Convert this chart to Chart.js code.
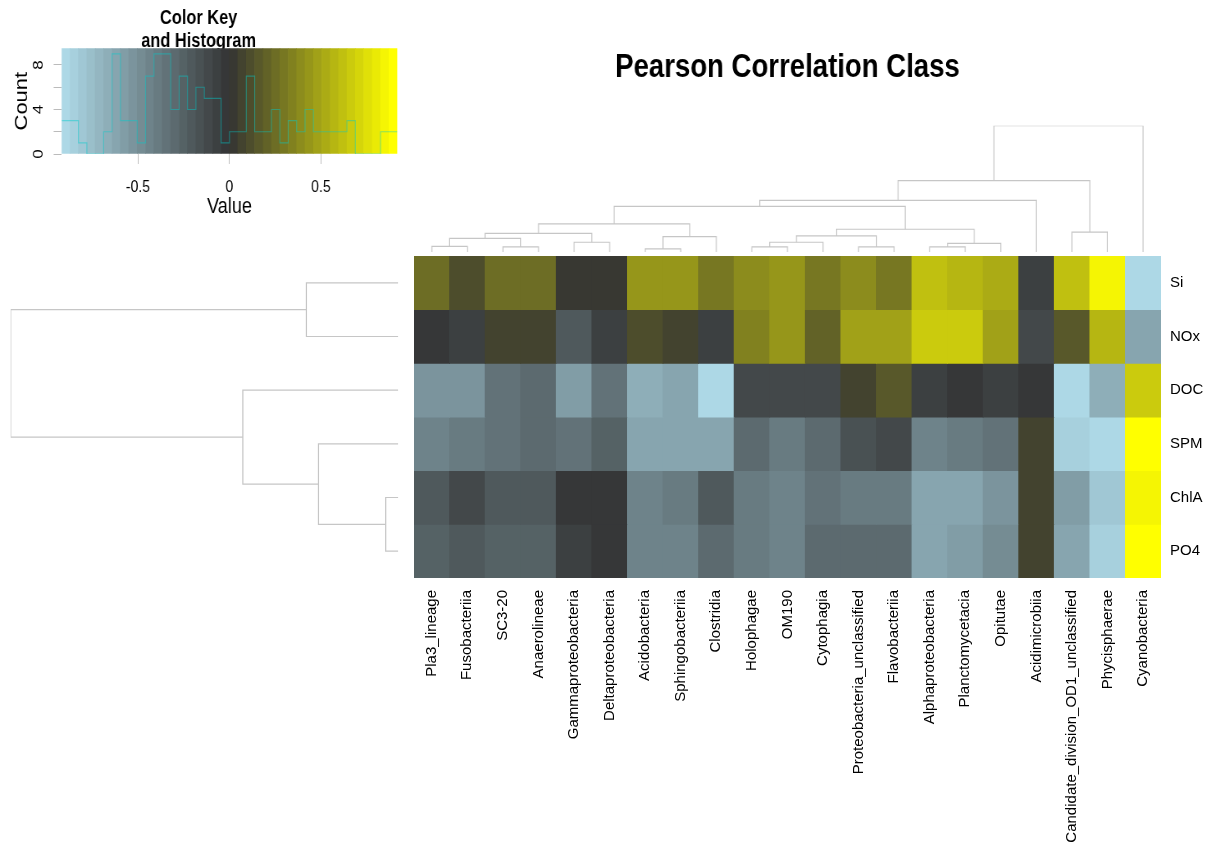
<!DOCTYPE html>
<html>
<head>
<meta charset="utf-8">
<script src="https://cdn.jsdelivr.net/npm/chart.js@4.4.1/dist/chart.umd.min.js"></script>
<style>
    html, body { margin: 0; padding: 0; background: #fff; overflow: hidden; }
    #lienzo { position: relative; width: 1205px; height: 845px; overflow: hidden; }
    #lienzo canvas { position: absolute; left: 0; top: 0; transform-origin: 0 0; }
    /* el original esta comprimido en horizontal: se imita en la clave y el titulo */
    #clave { transform: scaleX(0.82); }
    #dendro_columnas { transform: scaleX(0.835); }
</style>
</head>
<body>
<div id="lienzo">
    <canvas id="clave" width="1470" height="845"></canvas>
    <canvas id="mapa" width="1205" height="845"></canvas>
    <canvas id="dendro_columnas" width="1443" height="845"></canvas>
    <canvas id="dendro_filas" width="1205" height="845"></canvas>
</div>
<script>
// columnas (clases) en el orden del dendrograma
const columnas = ['Pla3_lineage', 'Fusobacteriia', 'SC3-20', 'Anaerolineae', 'Gammaproteobacteria',
    'Deltaproteobacteria', 'Acidobacteria', 'Sphingobacteriia', 'Clostridia', 'Holophagae', 'OM190',
    'Cytophagia', 'Proteobacteria_unclassified', 'Flavobacteriia', 'Alphaproteobacteria',
    'Planctomycetacia', 'Opitutae', 'Acidimicrobiia', 'Candidate_division_OD1_unclassified',
    'Phycisphaerae', 'Cyanobacteria']
const filas = ['Si', 'NOx', 'DOC', 'SPM', 'ChlA', 'PO4']

// correlaciones de Pearson por variable
const cor_Si   = [0.25, 0.13, 0.24, 0.24, 0.04, 0.04, 0.44, 0.44, 0.29, 0.39, 0.45, 0.32, 0.38, 0.31, 0.64, 0.59, 0.52, -0.07, 0.63, 0.87, -0.91]
const cor_NOx  = [-0.01, -0.08, 0.09, 0.09, -0.19, -0.08, 0.13, 0.08, -0.08, 0.33, 0.44, 0.2, 0.49, 0.49, 0.67, 0.67, 0.5, -0.11, 0.18, 0.57, -0.62]
const cor_DOC  = [-0.53, -0.53, -0.35, -0.28, -0.57, -0.33, -0.67, -0.61, -0.88, -0.13, -0.13, -0.11, 0.07, 0.18, -0.06, -0.01, -0.05, -0.01, -0.91, -0.65, 0.67]
const cor_SPM  = [-0.43, -0.37, -0.34, -0.29, -0.33, -0.23, -0.62, -0.62, -0.62, -0.32, -0.37, -0.28, -0.18, -0.11, -0.43, -0.37, -0.33, 0.09, -0.86, -0.91, 0.92]
const cor_ChlA = [-0.2, -0.13, -0.22, -0.22, -0.03, -0.03, -0.43, -0.37, -0.22, -0.37, -0.43, -0.34, -0.37, -0.37, -0.62, -0.62, -0.53, 0.09, -0.57, -0.82, 0.86]
const cor_PO4  = [-0.23, -0.2, -0.23, -0.23, -0.08, -0.03, -0.43, -0.43, -0.28, -0.37, -0.43, -0.32, -0.32, -0.32, -0.62, -0.56, -0.47, 0.09, -0.6, -0.86, 0.92]
const matriz = [cor_Si, cor_NOx, cor_DOC, cor_SPM, cor_ChlA, cor_PO4]

// histograma de la clave de color (40 intervalos)
const conteos = [3, 3, 1, 0, 0, 2, 9, 3, 3, 1, 7, 9, 9, 4, 7, 4, 6, 5, 5, 1,
    2, 2, 7, 2, 2, 4, 1, 3, 2, 4, 2, 2, 2, 2, 3, 0, 0, 0, 2, 2]
const rango_min = -0.917
const rango_max = 0.917
const ticks_valor = [-0.5, 0, 0.5]
const ticks_conteo = [0, 2, 4, 6, 8]

// dendrograma de columnas: [a, b] (negativo = hoja, positivo = grupo), alturas
const fusiones_columnas = [[-1, -2], [-3, -4], [1, 2], [-5, -6], [3, 4], [-7, -8], [6, -9], [5, 7],
    [-10, -11], [9, -12], [-13, -14], [10, 11], [-15, -16], [13, -17], [12, 14], [8, 15],
    [16, -18], [-19, -20], [17, 18], [19, -21]]
const alturas_columnas = [0.045, 0.04, 0.108, 0.077, 0.148, 0.024, 0.121, 0.222,
    0.04, 0.077, 0.04, 0.127, 0.04, 0.069, 0.18, 0.362, 0.409, 0.158, 0.565, 1.0]

// dendrograma de filas
const fusiones_filas = [[-1, -2], [-5, -6], [-4, 2], [-3, 3], [1, 4]]
const alturas_filas = [0.237, 0.0325, 0.206, 0.401, 1.0]

const SANS = '"Liberation Sans", Arial, sans-serif'
Chart.defaults.font.family = SANS
Chart.defaults.color = '#000'
Chart.defaults.animation = false

// paleta lightblue -> gray20 -> yellow en 40 pasos
const anclas = [[173, 216, 230], [51, 51, 51], [255, 255, 0]]
const paleta = Array.from({length: 40}, (_, i) => {
    const t = i / 39 * 2
    const k = Math.min(1, Math.floor(t))
    const f = t - k
    const c = anclas[k].map((v, j) => Math.round(v + (anclas[k + 1][j] - v) * f))
    return `rgb(${c[0]}, ${c[1]}, ${c[2]})`
})
const ancho_bin = (rango_max - rango_min) / 40
function Color_de(v) {
    const i = Math.max(0, Math.min(39, Math.floor((v - rango_min) / ancho_bin)))
    return paleta[i]
}

function Segmentos(fusiones, alturas) {
    const pos = [], alt = [], lineas = []
    fusiones.forEach(([a, b], k) => {
        const pa = a < 0 ? -a - 1 : pos[a - 1]
        const ha = a < 0 ? 0 : alt[a - 1]
        const pb = b < 0 ? -b - 1 : pos[b - 1]
        const hb = b < 0 ? 0 : alt[b - 1]
        lineas.push([[pa, ha], [pa, alturas[k]], [pb, alturas[k]], [pb, hb]])
        pos[k] = (pa + pb) / 2
        alt[k] = alturas[k]
    })
    return lineas
}

const estilo_rama = {showLine: true, pointRadius: 0, borderColor: '#c6c6c6', borderWidth: 1.2, fill: false}
const sin_extras = {legend: {display: false}, tooltip: {enabled: false}}

// clave de color e histograma (canvas escalado 0.82 en x)
const cortes = Array.from({length: 41}, (_, i) => rango_min + i * ancho_bin)
new Chart(document.getElementById('clave'), {
    type: 'bar',
    data: {
        datasets: [{
            type: 'line',
            data: cortes.map((x, i) => ({x: x, y: conteos[Math.min(i, 39)]})),
            stepped: 'before',
            borderColor: 'rgba(0, 205, 205, 0.45)',
            borderWidth: 1.2,
            pointRadius: 0,
            order: 0
        }, {
            type: 'bar',
            data: cortes.slice(0, 40).map(x => ({x: x + ancho_bin / 2, y: 9.5})),
            backgroundColor: paleta,
            barPercentage: 1,
            categoryPercentage: 1,
            borderWidth: 0,
            order: 1
        }]
    },
    options: {
        responsive: false,
        layout: {padding: {left: 0, right: 985.5, top: 0, bottom: 621}},
        plugins: {
            ...sin_extras,
            title: {
                display: true,
                text: ['Color Key', 'and Histogram'],
                font: {size: 20, weight: 'bold', lineHeight: 1.17},
                color: '#000',
                padding: {top: 6.6, bottom: -5.1}
            }
        },
        scales: {
            x: {
                type: 'linear', min: rango_min, max: rango_max, offset: false,
                afterBuildTicks: s => { s.ticks = ticks_valor.map(v => ({value: v})) },
                afterFit: s => { s.height = 70 },
                ticks: {font: {size: 17}, color: '#000', padding: 13, maxRotation: 0, autoSkip: false,
                    callback: v => String(v)},
                grid: {drawOnChartArea: false, tickLength: 10, color: '#bbb', offset: false},
                border: {display: false},
                title: {display: true, text: 'Value', font: {size: 22}, color: '#000', padding: {top: 0, bottom: 4}}
            },
            y: {
                type: 'linear', min: 0, max: 9.5,
                afterBuildTicks: s => { s.ticks = ticks_conteo.map(v => ({value: v})) },
                afterFit: s => { s.width = 75.2 },
                ticks: {minRotation: 90, maxRotation: 90, crossAlign: 'center', padding: 13,
                    font: {size: 17}, color: '#000',
                    callback: v => (v % 4 === 0 ? String(v) : '')},
                grid: {drawOnChartArea: false, tickLength: 9.8, color: '#bbb'},
                border: {display: false},
                title: {display: true, text: 'Count', font: {size: 22}, color: '#000', padding: {top: 13.6, bottom: 0}}
            }
        }
    }
})

// mapa de calor
new Chart(document.getElementById('mapa'), {
    type: 'bar',
    data: {
        labels: columnas,
        datasets: filas.map((f, r) => ({
            label: f,
            data: columnas.map(() => [r, r + 1]),
            backgroundColor: matriz[r].map(Color_de),
            barPercentage: 1,
            categoryPercentage: 1,
            borderWidth: 0,
            inflateAmount: 0.4,
            grouped: false
        }))
    },
    options: {
        responsive: false,
        layout: {padding: {left: 414, right: 0, top: 256, bottom: 0}},
        plugins: sin_extras,
        scales: {
            x: {
                afterFit: s => { s.height = 267 },
                ticks: {minRotation: 90, maxRotation: 90, autoSkip: false, padding: 12,
                    font: {size: 15}, color: '#000'},
                grid: {display: false, drawTicks: false},
                border: {display: false}
            },
            y: {
                position: 'right', min: 0, max: 6, reverse: true,
                afterBuildTicks: s => { s.ticks = filas.map((f, i) => ({value: i + 0.5})) },
                afterFit: s => { s.width = 44 },
                ticks: {padding: 9, font: {size: 15}, color: '#000',
                    callback: v => filas[Math.floor(v)]},
                grid: {display: false, drawTicks: false},
                border: {display: false}
            }
        }
    }
})

// dendrograma de columnas + titulo (canvas escalado 0.835 en x)
new Chart(document.getElementById('dendro_columnas'), {
    type: 'scatter',
    data: {
        datasets: Segmentos(fusiones_columnas, alturas_columnas).map(seg => ({
            ...estilo_rama,
            data: seg.map(([p, h]) => ({x: p, y: h}))
        }))
    },
    options: {
        responsive: false,
        layout: {padding: {left: 495.8, right: 52.7, top: 0, bottom: 593}},
        plugins: {
            ...sin_extras,
            title: {
                display: true,
                fullSize: false,
                text: 'Pearson Correlation Class',
                font: {size: 33, weight: 'bold', lineHeight: 1.2},
                color: '#000',
                padding: {top: 48.5, bottom: 37.6}
            }
        },
        scales: {
            x: {type: 'linear', min: -0.5, max: 20.5, display: false},
            y: {type: 'linear', min: 0, max: 1, display: false}
        }
    }
})

// dendrograma de filas
new Chart(document.getElementById('dendro_filas'), {
    type: 'scatter',
    data: {
        datasets: Segmentos(fusiones_filas, alturas_filas).map(seg => ({
            ...estilo_rama,
            data: seg.map(([p, h]) => ({x: h, y: p}))
        }))
    },
    options: {
        responsive: false,
        layout: {padding: {left: 10.7, right: 806.7, top: 256, bottom: 267}},
        plugins: sin_extras,
        scales: {
            x: {type: 'linear', min: 0, max: 1, reverse: true, display: false},
            y: {type: 'linear', min: -0.5, max: 5.5, reverse: true, display: false}
        }
    }
})
</script>
</body>
</html>
